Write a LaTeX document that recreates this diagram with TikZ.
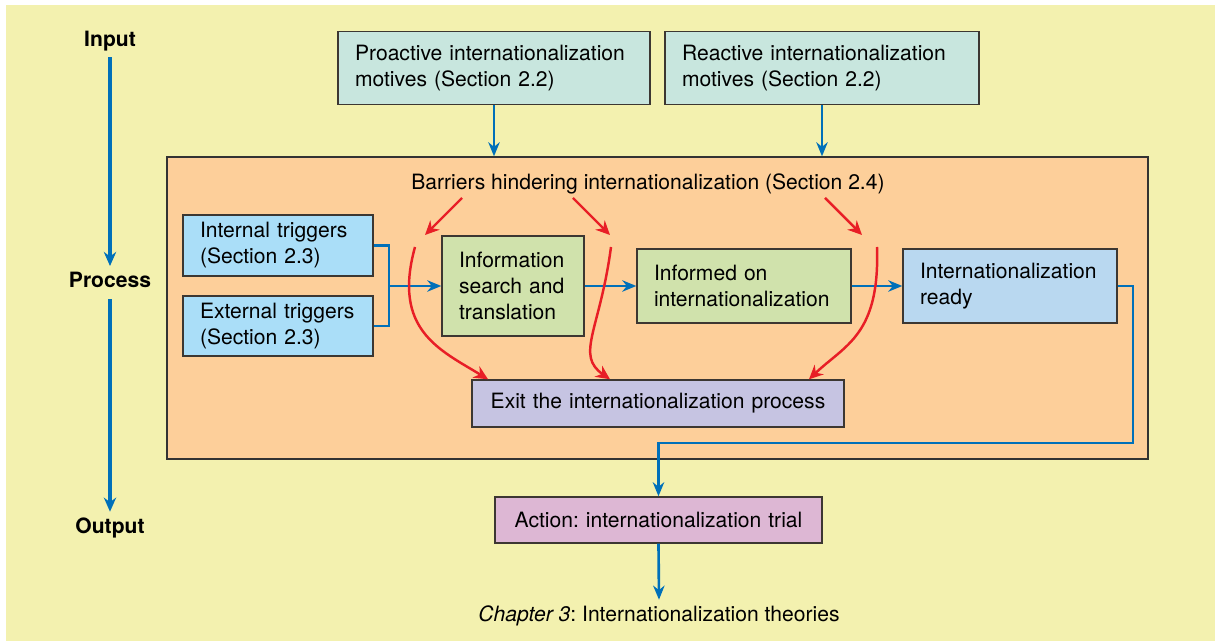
\documentclass[tikz,border=0pt]{standalone}
\usepackage{fontspec}
\setmainfont{TeX Gyre Heros}
\usepackage{tikz}
\usetikzlibrary{arrows.meta, positioning, calc}
\frenchspacing
\definecolor{bgyel} {RGB}{243,241,175}
\definecolor{orng}  {RGB}{253,207,154}
\definecolor{mteal} {RGB}{200,230,222}
\definecolor{lblue} {RGB}{170,222,248}
\definecolor{lgrn}  {RGB}{208,226,172}
\definecolor{rblue} {RGB}{185,216,240}
\definecolor{lavd}  {RGB}{198,196,226}
\definecolor{pink}  {RGB}{221,183,212}
\definecolor{lnblue}{RGB}{  0,112,185}
\definecolor{bred}  {RGB}{232, 30, 38}
\definecolor{bord}  {RGB}{ 60, 55, 50}
\tikzset{
  % Boxed stage, left-aligned text
  BX/.style={rectangle,draw=bord,line width=0.8pt,text width=#1,
             align=left,inner xsep=0.34cm,inner ysep=2pt,
             font=\fontsize{12}{14.8}\selectfont},
  BX/.default=3.0cm,
  % Boxed stage, centred text
  CB/.style={BX=#1,align=center},
  CB/.default=3.0cm,
  % Big process frame
  FR/.style={rectangle,draw=black!80,line width=0.8pt,fill=orng,
             minimum width=19.62cm,minimum height=6.04cm},
  % Side labels
  SL/.style={font=\fontsize{12}{14.8}\selectfont\bfseries},
  TL/.style={font=\fontsize{12}{14.8}\selectfont},
  % Arrows
  Ln/.style  ={line width=1.5pt,color=lnblue},
  Arr/.style ={-{Stealth[length=8pt,width=6.5pt]},line width=1.5pt,color=lnblue},
  TArr/.style={-{Stealth[length=8pt,width=7pt]},line width=2.8pt,color=lnblue},
  RArr/.style={-{Stealth[length=8pt,width=7.5pt]},line width=1.4pt,color=bred},
}
\begin{document}
\begin{tikzpicture}[x=0.02cm,y=-0.02cm]
\useasboundingbox (0,0) rectangle (1215,641);
\fill[white] (0,0) rectangle (1215,641);
\fill[bgyel] (6,5) rectangle (1215,641);
% ── Side axis ────────────────────────────
\node[SL] at (110,41)  (inp)  {Input};
\node[SL] at (110,280) (proc) {Process};
\node[SL] at (110,528) (outp) {Output};
\draw[TArr] (inp) -- (proc);
\draw[TArr,shorten <=3pt] (proc) -- (outp);
% ── Motives ──────────────────────────────
\node[BX=5.56cm,fill=mteal,minimum height=1.46cm] at (494,68) (pro)
{Proactive internationalization\\motives (Section 2.2)};
\node[BX=5.60cm,fill=mteal,minimum height=1.46cm] at (822,68) (rea)
{Reactive internationalization\\motives (Section 2.2)};
% ── Process frame ────────────────────────
\node[FR] at (657.5,308) (frame) {};
\draw[Arr] (pro.south) -- (pro.south |- frame.north);
\draw[Arr] (rea.south) -- (rea.south |- frame.north);
\node[TL] at (648,184) (barr) {Barriers hindering internationalization (Section 2.4)};
% Triggers
\node[BX=3.12cm,fill=lblue,minimum height=1.22cm] at (278,245.5) (intr)
{Internal triggers\\(Section 2.3)};
\node[BX=3.12cm,fill=lblue,minimum height=1.20cm] at (278,326) (extr)
{External triggers\\(Section 2.3)};
% Stages
\node[BX=2.16cm,fill=lgrn,minimum height=2.0cm] at (513,286) (info)
{Information\\search and\\translation};
\node[BX=3.60cm,fill=lgrn,minimum height=1.48cm] at (744,286) (infd)
{Informed on\\internationalization};
\node[BX=3.60cm,fill=rblue,minimum height=1.48cm] at (1010,286) (ready)
{Internationalization\\ready};
\node[CB=6.76cm,fill=lavd,minimum height=0.94cm] at (658,403.5) (exit)
{Exit the internationalization process};
% Flow
\coordinate (jn) at (389,286);
\draw[Ln] (intr.east) -| (jn);
\draw[Ln] (extr.east) -| (jn);
\draw[Arr] (jn) -- (info.west);
\draw[Arr] (info.east) -- (infd.west);
\draw[Arr] (infd.east) -- (ready.west);
% Barriers
\coordinate (b1) at (462,198); \coordinate (b1e) at (425,235);
\coordinate (b2) at (573,198); \coordinate (b2e) at (610,235);
\coordinate (b3) at (825,198); \coordinate (b3e) at (862,235);
\draw[RArr] (b1) -- (b1e);
\draw[RArr] (b2) -- (b2e);
\draw[RArr] (b3) -- (b3e);
\coordinate (r1) at (415,247);
\coordinate (r2) at (611,247);
\coordinate (r3) at (877,247);
\draw[RArr] (r1) .. controls (392,330) and (440,350) .. ([xshift=-3.4cm]exit.north);
\draw[RArr] (r2) .. controls (600,330) and (575,355) .. ([xshift=-0.96cm]exit.north);
\draw[RArr] (r3) .. controls (880,335) and (845,345) .. ([xshift=3.02cm]exit.north);
% ── Output ───────────────────────────────
\node[CB=5.86cm,fill=pink,minimum height=0.92cm] at (658.5,520) (act)
{Action: internationalization trial};
\node[TL] at (659,616) (chap) {\textit{Chapter 3}: Internationalization theories};
\coordinate (rt) at (1133,443);
\draw[Arr] (ready.east) -| (rt) -| (act.north);
\draw[Arr] (act.south) -- (chap.north);
\end{tikzpicture}
\end{document}
